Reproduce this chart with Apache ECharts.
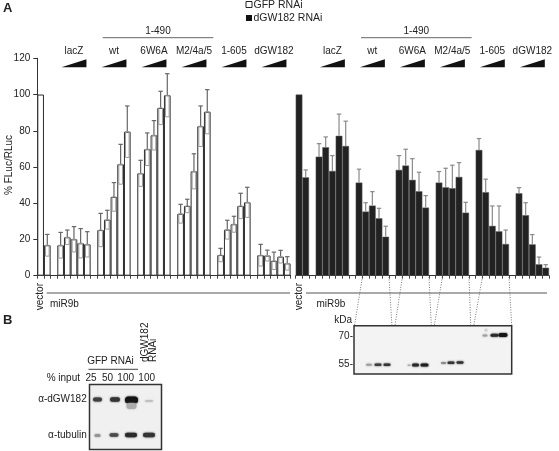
<!DOCTYPE html>
<html><head><meta charset="utf-8">
<script src="https://cdn.jsdelivr.net/npm/echarts@6.0.0/dist/echarts.min.js"></script>
<style>html,body{margin:0;padding:0;background:#fff}#c{width:559px;height:451px}</style>
</head><body><div id="c"></div>
<script>
// ---------- data ----------
const groupNames = ['lacZ', 'wt', '6W6A', 'M2/4a/5', '1-605', 'dGW182'];
const controlNames = ['vector', 'miR9b'];
const yTicks = [0, 20, 40, 60, 80, 100, 120];
const yAxisTitle = '% FLuc/RLuc';

// GFP RNAi (open bars): mean and error (SD) per dose
const gfpControl = [100, 16.8];
const gfpControlErr = [0, 6.0];
const gfpLacZ   = [16.8, 21.2, 20.1, 17.9, 17.3];
const gfpWt     = [25.2, 30.9, 43.5, 61.5, 79.5];
const gfp6W6A   = [56.5, 69.8, 77.5, 92.6, 99.6];
const gfpM2     = [34.2, 38.5, 57.6, 82.5, 90.5];
const gfp1605   = [11.4, 25.4, 28.4, 38.5, 40.5];
const gfpDGW    = [11.3, 11.1, 8.2, 10.5, 6.8];
const gfpLacZErr = [7.1, 4.0, 7.0, 8.1, 7.0];
const gfpWtErr   = [9.2, 5.2, 7.9, 11.0, 14.2];
const gfp6W6AErr = [7.2, 9.0, 8.1, 9.2, 11.9];
const gfpM2Err   = [5.2, 3.7, 9.7, 11.2, 12.2];
const gfp1605Err = [3.7, 5.2, 4.4, 7.0, 8.3];
const gfpDGWErr  = [6.0, 3.0, 4.8, 3.5, 3.7];

// dGW182 RNAi (filled bars)
const dgwControl = [100, 54.3];
const dgwControlErr = [0, 4.1];
const dgwLacZ   = [65.7, 70.9, 57.8, 77.2, 71.6];
const dgwWt     = [51.4, 35.4, 38.7, 31.7, 21.5];
const dgw6W6A   = [58.4, 60.8, 52.9, 46.6, 37.6];
const dgwM2     = [51.4, 48.8, 48.3, 54.5, 34.8];
const dgw1605   = [69.4, 46.1, 27.5, 24.5, 17.5];
const dgwDGW    = [45.5, 33.4, 17.3, 6.3, 4.4];
const dgwLacZErr = [7.2, 5.7, 8.5, 12.0, 13.7];
const dgwWtErr   = [7.4, 4.9, 7.7, 5.5, 5.8];
const dgw6W6AErr = [7.9, 9.0, 11.7, 10.5, 6.6];
const dgwM2Err   = [6.1, 10.5, 12.7, 7.9, 5.7];
const dgw1605Err = [6.3, 7.2, 11.0, 14.0, 7.7];
const dgwDGWErr  = [3.1, 6.9, 5.4, 4.0, 1.7];

// western blot band appearance (x, y, w, h, darkness)
const blotABands = [
  [369, 364.8, 6, 2, 0.35], [378, 364.8, 7, 2.5, 0.8], [387, 364.8, 7, 2.5, 0.85],
  [409, 365.3, 3, 1.5, 0.3], [415.5, 365, 7, 3, 0.9], [424.5, 365, 8, 3, 0.95],
  [443.5, 363, 5, 2, 0.45], [451, 362.8, 7, 2.5, 0.85], [460, 362.6, 7, 2.5, 0.85],
  [485, 335.5, 5, 2, 0.35], [494.5, 335.3, 8, 3, 0.9], [503, 335, 9, 4, 1.0], [486, 330, 3, 3, 0.12]
];
const blotBBands = [
  [97.5, 399.5, 9, 4, 0.8], [115, 399.5, 10, 4.5, 0.85], [131.5, 400, 13, 7, 1.0], [149, 401, 8, 2, 0.2],
  [131.5, 406, 10, 6, 0.3],
  [97.5, 435.5, 6, 3, 0.4], [114, 435, 9, 3.5, 0.75], [131, 435, 12, 4.5, 0.9], [149, 435, 12, 4.5, 0.85]
];
const inputLabels = ['25', '50', '100', '100'];

// ---------- build slots ----------
const gfpGroups = [gfpLacZ, gfpWt, gfp6W6A, gfpM2, gfp1605, gfpDGW];
const gfpGroupsErr = [gfpLacZErr, gfpWtErr, gfp6W6AErr, gfpM2Err, gfp1605Err, gfpDGWErr];
const dgwGroups = [dgwLacZ, dgwWt, dgw6W6A, dgwM2, dgw1605, dgwDGW];
const dgwGroupsErr = [dgwLacZErr, dgwWtErr, dgw6W6AErr, dgwM2Err, dgw1605Err, dgwDGWErr];

const categories = [];
controlNames.forEach(n => categories.push(n));
const groupStart = [];
groupNames.forEach((g, gi) => {
  categories.push('gap' + gi);
  groupStart.push(categories.length);
  for (let d = 1; d <= 5; d++) categories.push(g + ' ' + d);
});

function buildValues(ctrl, groups) {
  const out = ctrl.slice();
  groups.forEach(arr => { out.push(null); arr.forEach(v => out.push(v)); });
  return out;
}
function buildErr(means, errs) {
  return means.map((m, i) => [i, m, m == null ? 0 : errs[i]]);
}
const gfpVals = buildValues(gfpControl, gfpGroups);
const gfpErrs = buildValues(gfpControlErr, gfpGroupsErr);
const dgwVals = buildValues(dgwControl, dgwGroups);
const dgwErrs = buildValues(dgwControlErr, dgwGroupsErr);

const FONT = '"Liberation Sans", Arial, sans-serif';

function errRender(open) {
  return function (params, api) {
    const x = api.value(0), m = api.value(1), e = api.value(2);
    if (m == null || isNaN(m) || !e) return;
    const top = api.coord([x, m + e]);
    const mid = api.coord([x, m]);
    const low = api.coord([x, m - e]);
    const bw = api.size([1, 0])[0];
    const col = open ? '#666' : '#8a8a8a';
    const ch = [
      { type: 'line', shape: { x1: top[0], y1: top[1], x2: mid[0], y2: mid[1] }, style: { stroke: col, lineWidth: 1.2 } },
      { type: 'line', shape: { x1: top[0] - 2.2, y1: top[1], x2: top[0] + 2.2, y2: top[1] }, style: { stroke: col, lineWidth: 1.2 } }
    ];
    if (open) {
      ch.push({ type: 'rect', shape: { x: mid[0] - bw / 2 + 1.5, y: mid[1], width: bw - 3, height: low[1] - mid[1] },
        style: { fill: 'none', stroke: '#9a9a9a', lineWidth: 1 } });
    }
    return { type: 'group', children: ch };
  };
}

const gridCommon = { top: 58.3, height: 217.4, width: 253.3, outerBoundsMode: 'none', containLabel: false };
const xCommon = {
  type: 'category', data: categories,
  axisLine: { show: true, lineStyle: { color: '#333', width: 1 } },
  axisTick: { show: true, interval: 0, length: 3, lineStyle: { color: '#444' } },
  axisLabel: { show: false }, splitLine: { show: false }
};
const yCommon = { type: 'value', min: 0, max: 120, interval: 20, splitLine: { show: false } };

const chart = echarts.init(document.getElementById('c'), null, { renderer: 'canvas' });
chart.setOption({
  animation: false,
  backgroundColor: '#fff',
  textStyle: { fontFamily: FONT },
  grid: [Object.assign({ left: 37.3 }, gridCommon), Object.assign({ left: 295.7 }, gridCommon)],
  xAxis: [Object.assign({ gridIndex: 0 }, xCommon), Object.assign({ gridIndex: 1 }, xCommon)],
  yAxis: [
    Object.assign({ gridIndex: 0,
      axisLine: { show: true, lineStyle: { color: '#333' } },
      axisTick: { show: true, length: 4, lineStyle: { color: '#333' } },
      axisLabel: { fontSize: 10, color: '#222', margin: 7, fontFamily: FONT,
        formatter: v => yTicks.indexOf(v) >= 0 ? String(v) : '' }
    }, yCommon),
    Object.assign({ gridIndex: 1, show: false, axisLine: { show: false } }, yCommon)
  ],
  series: [
    { type: 'bar', xAxisIndex: 0, yAxisIndex: 0, data: gfpVals, barCategoryGap: '0%',
      itemStyle: { color: '#fff', borderColor: '#2a2a2a', borderWidth: 1 } },
    { type: 'custom', xAxisIndex: 0, yAxisIndex: 0, renderItem: errRender(true),
      data: buildErr(gfpVals, gfpErrs), z: 5 },
    { type: 'bar', xAxisIndex: 1, yAxisIndex: 1, data: dgwVals, barCategoryGap: '0%',
      itemStyle: { color: '#222', borderColor: '#5a5a5a', borderWidth: 0.5 } },
    { type: 'custom', xAxisIndex: 1, yAxisIndex: 1, renderItem: errRender(false),
      data: buildErr(dgwVals, dgwErrs), z: 5 }
  ]
});

// ---------- annotations ----------
function px(grid, slot) { return chart.convertToPixel({ xAxisIndex: grid }, slot); }
function py(v) { return chart.convertToPixel({ yAxisIndex: 0 }, v); }
function txt(text, x, y, opt) {
  opt = opt || {};
  return { type: 'text', x: x, y: y, rotation: opt.rot || 0, z: 10,
    style: { text: text, x: 0, y: 0, font: (opt.bold ? 'bold ' : '') + (opt.size || 10) + 'px ' + FONT,
      fill: opt.color || '#222', align: opt.align || 'center', verticalAlign: opt.va || 'middle',
      textAlign: opt.align || 'center', textVerticalAlign: opt.va || 'middle' } };
}
function line(x1, y1, x2, y2, stroke, w, dash) {
  return { type: 'line', z: 10, shape: { x1, y1, x2, y2 },
    style: { stroke: stroke || '#444', lineWidth: w || 1, lineDash: dash || null } };
}
function band(b) {
  const c = Math.round(235 - 215 * b[4]);
  const col = 'rgb(' + c + ',' + c + ',' + c + ')';
  return { type: 'rect', z: 12, shape: { x: b[0] - b[2] / 2, y: b[1] - b[3] / 2, width: b[2], height: b[3], r: b[3] / 2 },
    style: { fill: col, shadowBlur: 2, shadowColor: col } };
}

const g = [];
g.push(txt('A', 3, 8, { bold: true, size: 13, align: 'left' }));
g.push(txt('B', 3, 320, { bold: true, size: 13, align: 'left' }));
// y axis title
g.push(txt(yAxisTitle, 9, (py(0) + py(120)) / 2 - 2, { size: 10, rot: Math.PI / 2 }));

// legend
g.push({ type: 'rect', z: 10, shape: { x: 246, y: 1.5, width: 6, height: 6 }, style: { fill: '#fff', stroke: '#222', lineWidth: 1 } });
g.push(txt('GFP RNAi', 253.5, 5, { size: 10.5, align: 'left' }));
g.push({ type: 'rect', z: 10, shape: { x: 246, y: 15, width: 6, height: 6 }, style: { fill: '#111' } });
g.push(txt('dGW182 RNAi', 253.5, 18.5, { size: 10.5, align: 'left' }));

[0, 1].forEach(gi => {
  // 1-490 bracket
  const x1 = px(gi, groupStart[1]) + 2;
  const x2 = px(gi, groupStart[3] + 4) + 6;
  g.push(line(x1, 37.7, x2, 37.7, '#666', 1));
  g.push(txt('1-490', (x1 + x2) / 2, 31.5, { size: 10 }));
  groupNames.forEach((name, k) => {
    const c = (px(gi, groupStart[k]) + px(gi, groupStart[k] + 4)) / 2;
    g.push(txt(name, c, 51.5, { size: 10 }));
    g.push({ type: 'polygon', z: 10, shape: { points: [[c - 12.5, 67.3], [c + 12.5, 59.3], [c + 12.5, 67.3]] },
      style: { fill: '#111' } });
  });
  // bottom labels
  const vx = px(gi, 0);
  const lineStart = gi === 0 ? 46.7 : 306;
  const lineEnd = gi === 0 ? 290 : 547;
  g.push(line(lineStart, 293, lineEnd, 293, '#555', 1));
  g.push(txt('vector', vx, 283, { size: 10, rot: Math.PI / 2, align: 'right' }));
  g.push(txt('miR9b', gi === 0 ? 50 : 316.5, 304.5, { size: 10, align: 'left' }));
});

// blot A
const boxL = 354, boxR = 511.7, boxT = 325.7, boxB = 374;
g.push({ type: 'rect', z: 11, shape: { x: boxL, y: boxT, width: boxR - boxL, height: boxB - boxT },
  style: { fill: '#f3f3f3', stroke: '#333', lineWidth: 1.5 } });
const sw = (boxR - boxL) / 4;
[1, 2, 3, 4].forEach((k, i) => {
  const a = px(1, groupStart[k] + 1) - 3.3;
  const b = px(1, groupStart[k] + 4) + 3.3;
  g.push(line(a, 277, boxL + i * sw + (i ? 1.5 : 0.5), boxT, '#555', 0.8, [1, 1.5]));
  g.push(line(b, 277, boxL + (i + 1) * sw - (i < 3 ? 1.5 : 0), boxT, '#555', 0.8, [1, 1.5]));
});
g.push(txt('kDa', 352, 320.5, { size: 10, align: 'right' }));
g.push(txt('70-', 353, 336.5, { size: 10, align: 'right' }));
g.push(txt('55-', 353, 364.5, { size: 10, align: 'right' }));
blotABands.forEach(b => g.push(band(b)));

// blot B
g.push({ type: 'rect', z: 11, shape: { x: 89.5, y: 384.5, width: 72, height: 65 },
  style: { fill: '#f0f0f0', stroke: '#333', lineWidth: 1.5 } });
g.push(line(90.5, 421.7, 160.5, 421.7, '#ffffff', 1.5));
blotBBands.forEach(b => g.push(band(b)));
g.push(txt('GFP RNAi', 110.5, 361.5, { size: 10 }));
g.push(line(88.5, 369.3, 138, 369.3, '#444', 1));
g.push(txt('% input', 80, 378.5, { size: 10, align: 'right' }));
[91, 107.5, 125.7, 146.7].forEach((x, i) => g.push(txt(inputLabels[i], x, 378.5, { size: 10 })));
g.push(txt('dGW182', 145, 362, { size: 10, rot: Math.PI / 2, align: 'left' }));
g.push(txt('RNAi', 153.5, 362, { size: 10, rot: Math.PI / 2, align: 'left' }));
g.push(txt('\u03b1-dGW182', 86.7, 399.5, { size: 10, align: 'right' }));
g.push(txt('\u03b1-tubulin', 86.7, 435, { size: 10, align: 'right' }));

chart.setOption({ graphic: { elements: g } });
</script></body></html>
